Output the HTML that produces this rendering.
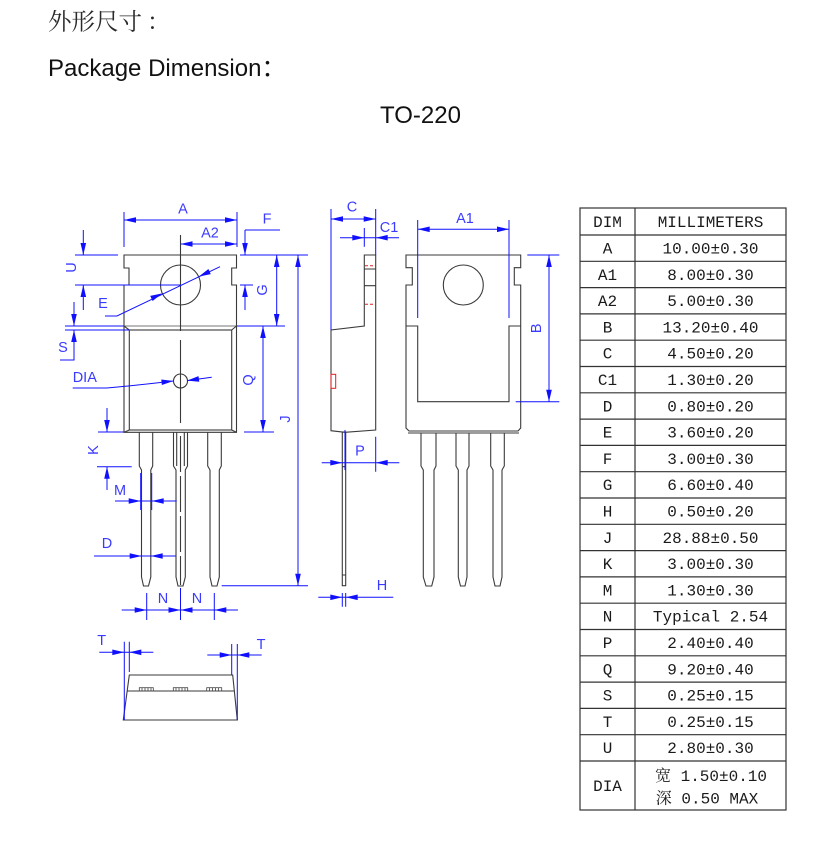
<!DOCTYPE html>
<html><head><meta charset="utf-8">
<style>
html,body{margin:0;padding:0;background:#fff;}
body{width:840px;height:847px;overflow:hidden;}
svg{display:block;}
.k{fill:none;stroke:#3a3a3a;stroke-width:1.1;}
.b{fill:none;stroke:#1010ff;stroke-width:1;}
.t{fill:#3b3bff;font-family:"Liberation Sans",sans-serif;font-size:14.5px;}
.tb{fill:#1a1a1a;font-family:"Liberation Mono","Noto Serif CJK SC",monospace;font-size:16px;}
</style></head><body>
<svg width="840" height="847" viewBox="0 0 840 847" xmlns="http://www.w3.org/2000/svg">
<defs><path id="ar" d="M0,0 L-12,-2.8 L-12,2.8 Z" fill="#1010ff"/></defs>

<!-- Titles -->
<text x="48" y="29.5" font-family="'Noto Serif CJK SC',serif" font-size="23.5" fill="#2a2a2a">外形尺寸<tspan dx="5">：</tspan></text>
<text x="48" y="76" font-family="'Liberation Sans',sans-serif" font-size="24" fill="#111">Package Dimension<tspan font-family="'Noto Sans CJK SC',sans-serif">：</tspan></text>
<text x="380" y="123" font-family="'Liberation Sans',sans-serif" font-size="24" fill="#111">TO-220</text>

<!-- ===== FRONT VIEW ===== -->
<path class="k" d="M124,326 L124,285 L129,285 L129,268 L124,268 L124,255 L236.5,255 L236.5,268 L231.7,268 L231.7,285 L236.5,285 L236.5,326"/>
<path class="k" d="M124,326 H236.5" stroke-width="2" style="stroke:#777"/>
<path class="k" d="M124,326 V432.3 H236.5 V326"/>
<rect class="k" x="129.3" y="330" width="102.4" height="100"/>
<path class="k" d="M124,326 L129.3,330 M236.5,326 L231.7,330 M124,432.3 L129.3,430 M236.5,432.3 L231.7,430"/>
<circle class="k" cx="180.5" cy="285" r="20"/>
<circle class="k" cx="180.5" cy="381" r="7"/>
<path class="k" d="M180.5,235 V331 M180.5,340 V423"/>
<path class="k" d="M180.5,436 V585" stroke-dasharray="36 4"/>
<!-- front leads -->
<path class="k" d="M139.3,432 V466 L141.5,470 V577 L143.5,586 H148.5 L150.8,577 V470 L152.7,466 V432"/>
<path class="k" d="M173.5,432 V466 L176,470 V577 L178,586 H183 L185.3,577 V470 L187.5,466 V432"/>
<path class="k" d="M176.7,432 V466 M184.3,432 V466" stroke-width="0.8"/>
<path class="k" d="M207.7,432 V466 L210,470 V577 L212,586 H217 L219.3,577 V470 L221.3,466 V432"/>

<!-- ===== SIDE VIEW ===== -->
<path class="k" d="M364.3,255 H375.7 V430 L345,432.3 L331,430.7 V330 L364.3,326 Z"/>
<path class="k" d="M364.3,269 H375.7 M364.3,285.7 H375.7"/>
<path d="M365,265.7 H375 M365,304.3 H375" stroke="#e02020" stroke-width="1" stroke-dasharray="3 2"/>
<rect x="331" y="374.3" width="4.7" height="14" fill="none" stroke="#e02020" stroke-width="1"/>
<rect class="k" x="342.3" y="432" width="3.4" height="153.7"/>
<path class="k" d="M342.5,466.7 H345.5 M342.5,575 H345.5"/>

<!-- ===== BACK VIEW ===== -->
<path class="k" d="M406,255 H520.7 V267.7 H514.3 V285 H520.7 V428 L518,431 H409 L406,428 V285 H412.3 V267.7 H406 Z"/>
<path class="k" d="M408,433 H519" stroke-width="0.8"/>
<path class="k" d="M406,326 H417.7 V401.7 H509 V326 H520.7"/>
<circle class="k" cx="463.3" cy="285" r="20"/>
<path class="k" d="M421,433 V466 L423.3,470 V577 L426,586 H431.7 L434,577 V470 L436,466 V433"/>
<path class="k" d="M456,433 V466 L458.3,470 V577 L460.5,586 H465 L467,577 V470 L469,466 V433"/>
<path class="k" d="M490.7,433 V466 L493,470 V577 L495,586 H500 L502,577 V470 L504.3,466 V433"/>

<!-- ===== BOTTOM VIEW ===== -->
<path class="k" d="M129.3,675 H232.7 L237.3,720 H123.3 Z"/>
<path class="k" d="M127.2,691 H234.3"/>
<g fill="#666" stroke="#444" stroke-width="0.8">
<rect x="139.3" y="687.7" width="14" height="3.3" fill="none"/>
<rect x="173.3" y="687.7" width="14.4" height="3.3" fill="none"/>
<rect x="206.7" y="687.7" width="15" height="3.3" fill="none"/>
<path d="M142,687.7 V691 M145,687.7 V691 M148,687.7 V691 M151,687.7 V691 M176,687.7 V691 M179,687.7 V691 M182,687.7 V691 M185,687.7 V691 M209.5,687.7 V691 M212.5,687.7 V691 M215.5,687.7 V691 M218.5,687.7 V691"/>
</g>

<!-- ===== BLUE DIMENSIONS ===== -->
<path class="b" d="
M124,212 V247 M237,212 V247 M124,220 H237
M180.5,244 H237
M245,230 H280 M245,230 V255 M245,285 V310 M240,255 H308 M240,285 H253
M276.7,255 V326 M237,326 H285
M298,255 V585.7 M221.7,585.7 H308
M263,326 V432 M244,432 H274
M83.3,230 V255 M83.3,285 V310 M75,255 H118 M75,285 H180.5
M65,326 H124 M65,330 H129 M74,302 V326 M74,330 V360 H60
M105,316 H117 L220,266.7
M72.7,388 H106.7 Q140,385 173.5,381 M211.7,377.3 L187,380.6
M107,408 V432 M107,466.7 V490 M98,432 H124 M97,466.7 H131.7
M115,501 H176.7 M140.7,473 V510 M151.7,473 V510
M94,556 H176
M121.7,610 H238 M146.7,593 V620 M214.3,593 V620 M180.5,588 V620
M331,209 V330 M375.7,209 V255 M331,219 H375.7
M364.3,228 V246.7 M340,237.7 H399
M321.7,462.7 H399.3 M375.7,436.7 V471.7 M345,430 V470
M318.3,597.3 H393.3 M342.3,593 V606.7 M345.7,593 V606.7
M417.7,220 V318 M509,220 V318 M417.7,229.3 H509
M549,255 V401.7 M527.3,255 H559.3 M515.7,401.7 H559.3
M124.3,641.7 V720 M129.3,641.7 V672 M99.3,652.3 H153.3
M231.7,644 V675 M237.3,644 V720 M207.3,655 H261.7
"/>

<!-- arrows -->
<use href="#ar" transform="translate(124,220) rotate(180)"/>
<use href="#ar" transform="translate(237,220)"/>
<use href="#ar" transform="translate(180.5,244) rotate(180)"/>
<use href="#ar" transform="translate(237,244)"/>
<use href="#ar" transform="translate(245,255) rotate(90)"/>
<use href="#ar" transform="translate(245,285) rotate(-90)"/>
<use href="#ar" transform="translate(276.7,255) rotate(-90)"/>
<use href="#ar" transform="translate(276.7,326) rotate(90)"/>
<use href="#ar" transform="translate(298,255) rotate(-90)"/>
<use href="#ar" transform="translate(298,585.7) rotate(90)"/>
<use href="#ar" transform="translate(263,326) rotate(-90)"/>
<use href="#ar" transform="translate(263,432) rotate(90)"/>
<use href="#ar" transform="translate(83.3,255) rotate(90)"/>
<use href="#ar" transform="translate(83.3,285) rotate(-90)"/>
<use href="#ar" transform="translate(74,326) rotate(90)"/>
<use href="#ar" transform="translate(74,330) rotate(-90)"/>
<use href="#ar" transform="translate(162.3,293.4) rotate(-24.7)"/>
<use href="#ar" transform="translate(198.7,276.6) rotate(155.3)"/>
<use href="#ar" transform="translate(173.5,381) rotate(-6)"/>
<use href="#ar" transform="translate(187,380.6) rotate(172)"/>
<use href="#ar" transform="translate(107,432) rotate(90)"/>
<use href="#ar" transform="translate(107,466.7) rotate(-90)"/>
<use href="#ar" transform="translate(140.7,501)"/>
<use href="#ar" transform="translate(151.7,501) rotate(180)"/>
<use href="#ar" transform="translate(141.7,556)"/>
<use href="#ar" transform="translate(150.7,556) rotate(180)"/>
<use href="#ar" transform="translate(146.7,610)"/>
<use href="#ar" transform="translate(180.5,610)"/>
<use href="#ar" transform="translate(180.5,610) rotate(180)"/>
<use href="#ar" transform="translate(214.3,610) rotate(180)"/>
<use href="#ar" transform="translate(331,219) rotate(180)"/>
<use href="#ar" transform="translate(375.7,219)"/>
<use href="#ar" transform="translate(364.3,237.7)"/>
<use href="#ar" transform="translate(375.7,237.7) rotate(180)"/>
<use href="#ar" transform="translate(342.3,462.7)"/>
<use href="#ar" transform="translate(375.7,462.7) rotate(180)"/>
<use href="#ar" transform="translate(342.3,597.3)"/>
<use href="#ar" transform="translate(345.7,597.3) rotate(180)"/>
<use href="#ar" transform="translate(417.7,229.3) rotate(180)"/>
<use href="#ar" transform="translate(509,229.3)"/>
<use href="#ar" transform="translate(549,255) rotate(-90)"/>
<use href="#ar" transform="translate(549,401.7) rotate(90)"/>
<use href="#ar" transform="translate(124.3,652.3)"/>
<use href="#ar" transform="translate(129.3,652.3) rotate(180)"/>
<use href="#ar" transform="translate(231.7,655)"/>
<use href="#ar" transform="translate(237.3,655) rotate(180)"/>

<!-- labels -->
<g class="t" text-anchor="middle">
<text x="183" y="213.5">A</text>
<text x="210" y="237.5">A2</text>
<text x="267" y="223.5">F</text>
<text x="103" y="308">E</text>
<text x="63" y="352">S</text>
<text x="120" y="495">M</text>
<text x="107" y="548">D</text>
<text x="163" y="603">N</text>
<text x="197" y="603">N</text>
<text x="352" y="211.5">C</text>
<text x="389" y="232">C1</text>
<text x="360" y="455.5">P</text>
<text x="382" y="590">H</text>
<text x="465" y="223">A1</text>
<text x="101.7" y="645">T</text>
<text x="261" y="649">T</text>
<text transform="translate(263,290) rotate(-90)" dominant-baseline="central">G</text>
<text transform="translate(286,419) rotate(-90)" dominant-baseline="central">J</text>
<text transform="translate(249,380) rotate(-90)" dominant-baseline="central">Q</text>
<text transform="translate(72,267.5) rotate(-90)" dominant-baseline="central">U</text>
<text transform="translate(94,450) rotate(-90)" dominant-baseline="central">K</text>
<text transform="translate(537,328.3) rotate(-90)" dominant-baseline="central">B</text>
</g>
<text class="t" x="72.7" y="382">DIA</text>

<!-- ===== TABLE ===== -->
<g stroke="#333" stroke-width="1.2" fill="none">
<rect x="580" y="208" width="206" height="602"/>
<path d="M635,208 V810"/>
<path d="M580,235 H786 M580,261.3 H786 M580,287.6 H786 M580,313.9 H786 M580,340.2 H786 M580,366.5 H786 M580,392.8 H786 M580,419.1 H786 M580,445.4 H786 M580,471.7 H786 M580,498 H786 M580,524.3 H786 M580,550.6 H786 M580,576.9 H786 M580,603.2 H786 M580,629.5 H786 M580,655.8 H786 M580,682.1 H786 M580,708.4 H786 M580,734.7 H786 M580,761 H786"/>
</g>
<g class="tb" text-anchor="middle">
<text x="607.5" y="227">DIM</text><text x="710.5" y="227">MILLIMETERS</text>
<text x="607.5" y="253.5">A</text><text x="710.5" y="253.5">10.00±0.30</text>
<text x="607.5" y="279.8">A1</text><text x="710.5" y="279.8">8.00±0.30</text>
<text x="607.5" y="306.1">A2</text><text x="710.5" y="306.1">5.00±0.30</text>
<text x="607.5" y="332.4">B</text><text x="710.5" y="332.4">13.20±0.40</text>
<text x="607.5" y="358.7">C</text><text x="710.5" y="358.7">4.50±0.20</text>
<text x="607.5" y="385">C1</text><text x="710.5" y="385">1.30±0.20</text>
<text x="607.5" y="411.3">D</text><text x="710.5" y="411.3">0.80±0.20</text>
<text x="607.5" y="437.6">E</text><text x="710.5" y="437.6">3.60±0.20</text>
<text x="607.5" y="463.9">F</text><text x="710.5" y="463.9">3.00±0.30</text>
<text x="607.5" y="490.2">G</text><text x="710.5" y="490.2">6.60±0.40</text>
<text x="607.5" y="516.5">H</text><text x="710.5" y="516.5">0.50±0.20</text>
<text x="607.5" y="542.8">J</text><text x="710.5" y="542.8">28.88±0.50</text>
<text x="607.5" y="569.1">K</text><text x="710.5" y="569.1">3.00±0.30</text>
<text x="607.5" y="595.4">M</text><text x="710.5" y="595.4">1.30±0.30</text>
<text x="607.5" y="621.7">N</text><text x="710.5" y="621.7">Typical 2.54</text>
<text x="607.5" y="648">P</text><text x="710.5" y="648">2.40±0.40</text>
<text x="607.5" y="674.3">Q</text><text x="710.5" y="674.3">9.20±0.40</text>
<text x="607.5" y="700.6">S</text><text x="710.5" y="700.6">0.25±0.15</text>
<text x="607.5" y="726.9">T</text><text x="710.5" y="726.9">0.25±0.15</text>
<text x="607.5" y="753.2">U</text><text x="710.5" y="753.2">2.80±0.30</text>
<text x="607.5" y="791">DIA</text>
<text x="711" y="781">宽 1.50±0.10</text>
<text x="707" y="803.5">深 0.50 MAX</text>
</g>
</svg>
</body></html>
